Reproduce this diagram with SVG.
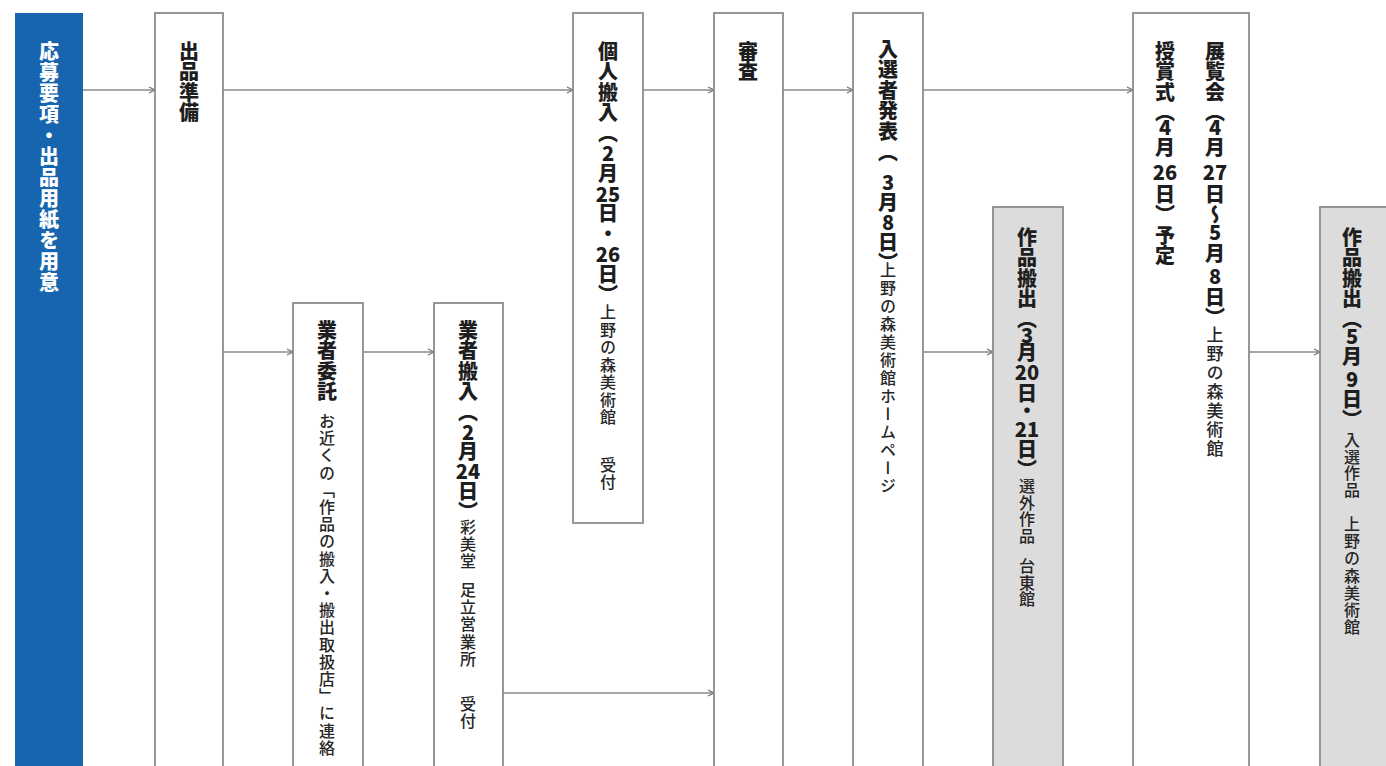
<svg xmlns="http://www.w3.org/2000/svg" width="1386" height="766" viewBox="0 0 1386 766">
<style>
.bx{fill:#ffffff;stroke:#8c8c8c;stroke-width:1.8}
.gr{fill:#dcdcdc;stroke:#8c8c8c;stroke-width:1.8}
.bl{fill:#1764af;stroke:none}
.v{writing-mode:vertical-rl;font-family:"Noto Sans CJK JP","Noto Sans",sans-serif;fill:#1e1e1e}
.b{font-size:20px;font-weight:900;letter-spacing:0.5px}
.s{font-size:16px;font-weight:500;letter-spacing:1.2px;fill:#262626}
.w{fill:#ffffff;letter-spacing:1px}
.d{font-family:"Noto Sans CJK JP","Noto Sans",sans-serif;font-size:20px;font-weight:900;fill:#1e1e1e;text-anchor:middle;dominant-baseline:central}
.c{fill:none;stroke:#8a8a8a;stroke-width:1.5}
</style>
<defs>
<marker id="ah" markerWidth="8" markerHeight="8" refX="7" refY="4" orient="auto" markerUnits="userSpaceOnUse">
<path d="M1,1 L7,4 L1,7" fill="none" stroke="#777" stroke-width="1.3"/>
</marker>
</defs>
<rect width="1386" height="766" fill="#ffffff"/>

<g id="connectors">
<line class="c" x1="83" y1="90" x2="155" y2="90" marker-end="url(#ah)"/>
<line class="c" x1="223" y1="90" x2="573" y2="90" marker-end="url(#ah)"/>
<line class="c" x1="643" y1="90" x2="714" y2="90" marker-end="url(#ah)"/>
<line class="c" x1="783" y1="90" x2="853" y2="90" marker-end="url(#ah)"/>
<line class="c" x1="923" y1="90" x2="1133" y2="90" marker-end="url(#ah)"/>
<line class="c" x1="223" y1="352" x2="293" y2="352" marker-end="url(#ah)"/>
<line class="c" x1="363" y1="352" x2="434" y2="352" marker-end="url(#ah)"/>
<line class="c" x1="503" y1="693" x2="714" y2="693" marker-end="url(#ah)"/>
<line class="c" x1="923" y1="352" x2="993" y2="352" marker-end="url(#ah)"/>
<line class="c" x1="1249" y1="352" x2="1320" y2="352" marker-end="url(#ah)"/>
</g>

<g id="n1">
<rect class="bl" x="15" y="13" width="68" height="760"/>
<text class="v b w" x="49" y="41">応募要項・出品用紙を用意</text>
</g>

<g id="n2">
<rect class="bx" x="155" y="13" width="68" height="760"/>
<text class="v b" x="189" y="41">出品準備</text>
</g>

<g id="n3">
<rect class="bx" x="293" y="303" width="70" height="470"/>
<text class="v b" x="327" y="320">業者委託</text>
<text class="v s" x="327" y="413">お近くの「作品の搬入・搬出取扱店」に連絡</text>
</g>

<g id="n4">
<rect class="bx" x="434" y="303" width="69" height="470"/>
<text class="v b" x="468" y="320">業者搬入（</text>
<text class="d" x="468" y="431">2</text>
<text class="v b" x="468" y="441">月</text>
<text class="d" x="468" y="470">24</text>
<text class="v b" x="468" y="481">日）</text>
<text class="v s" x="468" y="519">彩美堂</text>
<text class="v s" x="468" y="582">足立営業所</text>
<text class="v s" x="468" y="696">受付</text>
</g>

<g id="n5">
<rect class="bx" x="573" y="13" width="70" height="510"/>
<text class="v b" x="608" y="41">個人搬入（</text>
<text class="d" x="608" y="152">2</text>
<text class="v b" x="608" y="163">月</text>
<text class="d" x="608" y="193">25</text>
<text class="v b" x="608" y="203">日・</text>
<text class="d" x="608" y="253">26</text>
<text class="v b" x="608" y="264">日）</text>
<text class="v s" x="608" y="304" style="letter-spacing:1.5px">上野の森美術館</text>
<text class="v s" x="608" y="457">受付</text>
</g>

<g id="n6">
<rect class="bx" x="714" y="13" width="69" height="760"/>
<text class="v b" x="748" y="41">審査</text>
</g>

<g id="n7">
<rect class="bx" x="853" y="13" width="70" height="760"/>
<text class="v b" x="888" y="39" style="letter-spacing:0.6px">入選者発表（</text>
<text class="d" x="888" y="181">3</text>
<text class="v b" x="888" y="192">月</text>
<text class="d" x="888" y="221">8</text>
<text class="v b" x="888" y="232">日）</text>
<text class="v s" x="888" y="262" style="letter-spacing:2px">上野の森美術館ホームページ</text>
</g>

<g id="n8">
<rect class="gr" x="993" y="207" width="70" height="570"/>
<text class="v b" x="1027" y="227" style="letter-spacing:0.6px">作品搬出（</text>
<text class="d" x="1027" y="334">3</text>
<text class="v b" x="1027" y="342">月</text>
<text class="d" x="1027" y="371">20</text>
<text class="v b" x="1027" y="383" style="letter-spacing:-3px">日・</text>
<text class="d" x="1027" y="428">21</text>
<text class="v b" x="1027" y="439">日）</text>
<text class="v s" x="1027" y="478" style="letter-spacing:0.7px">選外作品</text>
<text class="v s" x="1027" y="558" style="letter-spacing:0.7px">台東館</text>
</g>

<g id="n9">
<rect class="bx" x="1133" y="13" width="116" height="760"/>
<text class="v b" x="1215" y="41">展覧会（</text>
<text class="d" x="1215" y="126">4</text>
<text class="v b" x="1215" y="137">月</text>
<text class="d" x="1215" y="171">27</text>
<text class="v b" x="1215" y="184">日〜</text>
<text class="d" x="1215" y="231">5</text>
<text class="v b" x="1215" y="243">月</text>
<text class="d" x="1215" y="275">8</text>
<text class="v b" x="1215" y="287">日）</text>
<text class="v s" x="1215" y="326" style="font-size:17px;letter-spacing:2px">上野の森美術館</text>
<text class="v b" x="1165" y="41">授賞式（</text>
<text class="d" x="1165" y="126">4</text>
<text class="v b" x="1165" y="137">月</text>
<text class="d" x="1165" y="171">26</text>
<text class="v b" x="1165" y="184">日）予定</text>
</g>

<g id="n10">
<rect class="gr" x="1320" y="207" width="72" height="570"/>
<text class="v b" x="1352" y="227" style="letter-spacing:0.6px">作品搬出（</text>
<text class="d" x="1352" y="335">5</text>
<text class="v b" x="1352" y="346">月</text>
<text class="d" x="1352" y="378">9</text>
<text class="v b" x="1352" y="389">日）</text>
<text class="v s" x="1352" y="432" style="letter-spacing:0.7px">入選作品</text>
<text class="v s" x="1352" y="516">上野の森美術館</text>
</g>
</svg>
